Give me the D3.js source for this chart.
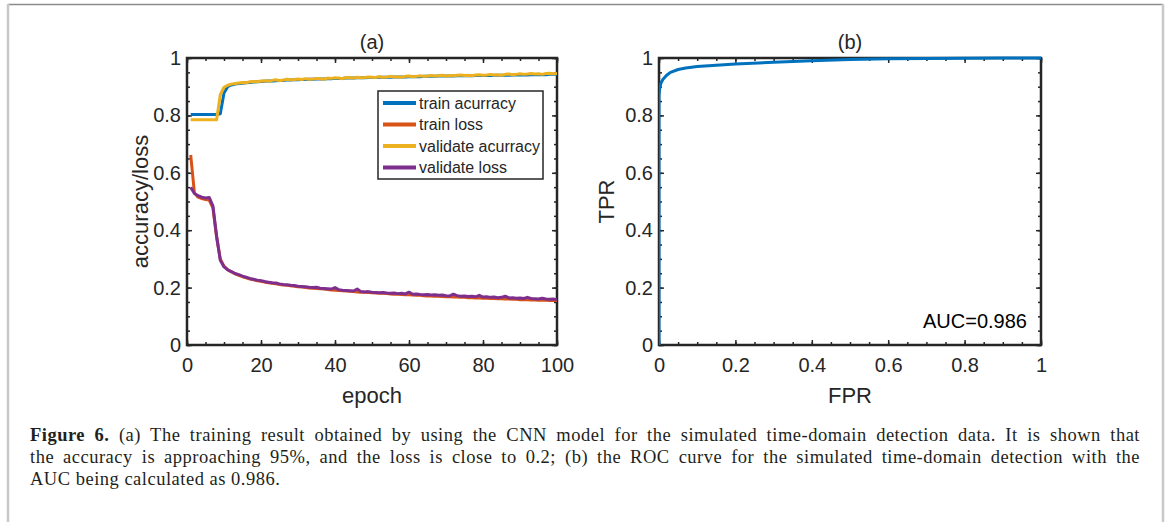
<!DOCTYPE html>
<html><head><meta charset="utf-8">
<script src="https://cdn.jsdelivr.net/npm/d3@7"></script>
<style>
html,body{margin:0;padding:0;background:#fff;}
svg{display:block;}
</style></head><body>
<svg id="chart" width="1167" height="522"></svg>
<script>
// ---------- DATA ----------
const epochs = d3.range(1, 101);
const trainAcc = [
0.803,0.803,0.803,0.803,0.803,0.803,0.803,0.803,0.806,0.878,
0.900,0.906,0.909,0.911,0.912,0.914,0.915,0.916,0.917,0.918,
0.919,0.920,0.920,0.921,0.922,0.922,0.923,0.923,0.924,0.924,
0.925,0.925,0.926,0.926,0.927,0.927,0.927,0.928,0.928,0.929,
0.929,0.929,0.930,0.930,0.930,0.931,0.931,0.931,0.932,0.932,
0.932,0.933,0.933,0.933,0.933,0.934,0.934,0.934,0.934,0.935,
0.935,0.935,0.935,0.936,0.936,0.936,0.936,0.937,0.937,0.937,
0.937,0.937,0.938,0.938,0.938,0.938,0.938,0.939,0.939,0.939,
0.939,0.939,0.940,0.940,0.940,0.940,0.940,0.941,0.941,0.941,
0.941,0.941,0.942,0.942,0.942,0.942,0.942,0.943,0.943,0.943];
const trainLoss = [
0.662,0.530,0.515,0.510,0.507,0.505,0.478,0.375,0.300,0.275,
0.262,0.255,0.248,0.243,0.238,0.234,0.230,0.227,0.224,0.222,
0.219,0.217,0.215,0.213,0.211,0.209,0.208,0.206,0.205,0.203,
0.202,0.200,0.199,0.198,0.197,0.196,0.195,0.193,0.192,0.191,
0.190,0.189,0.188,0.187,0.186,0.185,0.184,0.184,0.183,0.182,
0.181,0.180,0.180,0.179,0.178,0.177,0.177,0.176,0.175,0.175,
0.174,0.173,0.173,0.172,0.171,0.171,0.170,0.170,0.169,0.168,
0.168,0.167,0.167,0.166,0.166,0.165,0.165,0.164,0.164,0.163,
0.163,0.162,0.162,0.161,0.161,0.160,0.160,0.159,0.159,0.158,
0.158,0.158,0.157,0.157,0.156,0.156,0.156,0.155,0.155,0.155];
const valAcc = [
0.785,0.785,0.785,0.785,0.785,0.785,0.785,0.785,0.872,0.898,
0.905,0.909,0.911,0.913,0.915,0.914,0.917,0.918,0.917,0.920,
0.921,0.919,0.922,0.924,0.921,0.923,0.926,0.924,0.925,0.927,
0.925,0.928,0.926,0.927,0.929,0.928,0.926,0.930,0.929,0.931,
0.930,0.928,0.932,0.931,0.930,0.933,0.931,0.932,0.934,0.933,
0.932,0.935,0.933,0.934,0.936,0.934,0.935,0.933,0.936,0.937,
0.935,0.936,0.938,0.936,0.937,0.939,0.937,0.938,0.940,0.937,
0.939,0.938,0.940,0.941,0.939,0.940,0.938,0.941,0.942,0.940,
0.941,0.943,0.941,0.942,0.940,0.943,0.944,0.942,0.943,0.945,
0.943,0.944,0.946,0.944,0.945,0.943,0.946,0.947,0.945,0.946];
const valLoss = [
0.550,0.528,0.520,0.515,0.512,0.514,0.485,0.380,0.295,0.272,
0.262,0.256,0.249,0.245,0.240,0.236,0.232,0.229,0.226,0.224,
0.221,0.219,0.217,0.216,0.213,0.211,0.210,0.208,0.207,0.205,
0.204,0.203,0.201,0.200,0.201,0.198,0.197,0.196,0.195,0.200,
0.193,0.191,0.190,0.189,0.188,0.195,0.186,0.185,0.186,0.184,
0.183,0.182,0.183,0.181,0.180,0.181,0.179,0.180,0.178,0.184,
0.177,0.178,0.176,0.175,0.176,0.174,0.175,0.173,0.174,0.172,
0.171,0.177,0.172,0.170,0.171,0.169,0.170,0.168,0.173,0.167,
0.168,0.166,0.167,0.165,0.166,0.170,0.164,0.165,0.163,0.164,
0.162,0.166,0.162,0.161,0.160,0.163,0.160,0.159,0.160,0.158];
const seriesNames = ["train acurracy","train loss","validate acurracy","validate loss"];

const rocFPR = [0,0,0.002,0.005,0.01,0.02,0.03,0.05,0.07,0.10,0.15,0.20,0.30,0.40,0.50,0.60,0.70,0.80,0.90,1.00];
const rocTPR = [0,0.870,0.895,0.912,0.925,0.940,0.950,0.960,0.965,0.970,0.975,0.979,0.985,0.990,0.995,0.997,0.998,0.999,1.000,1.000];
const aucText = "AUC=0.986";

const epochTicks = [0,20,40,60,80,100];
const unitTicks = [0,0.2,0.4,0.6,0.8,1];

const captionBold = "Figure 6.";
const captionLines = [
  " (a) The training result obtained by using the CNN model for the simulated time-domain detection data. It is shown that",
  "the accuracy is approaching 95%, and the loss is close to 0.2; (b) the ROC curve for the simulated time-domain detection with the",
  "AUC being calculated as 0.986."
];

// ---------- STYLE ----------
const FONT = "'Liberation Sans', Arial, Helvetica, sans-serif";
const SERIF = "'Liberation Serif', 'Times New Roman', serif";
const AX = "#262626";
const COLORS = ["#0072BD","#D95319","#EDB120","#7E2F8E"];

const svg = d3.select("#chart");

// page frame
svg.append("line").attr("x1",8).attr("x2",1163).attr("y1",4.5).attr("y2",4.5).attr("stroke","#8c8c8c").attr("stroke-width",1.5);
svg.append("line").attr("x1",8).attr("x2",8).attr("y1",4).attr("y2",522).attr("stroke","#c8c8c8").attr("stroke-width",2.5);
svg.append("line").attr("x1",1163).attr("x2",1163).attr("y1",4).attr("y2",522).attr("stroke","#c8c8c8").attr("stroke-width",2.5);

function panel(p) {
  const x = d3.scaleLinear().domain(p.xDomain).range([p.x0, p.x1]);
  const y = d3.scaleLinear().domain([0,1]).range([p.y1, p.y0]);
  const g = svg.append("g");
  const clipId = "clip" + p.id;
  svg.append("clipPath").attr("id", clipId).append("rect")
    .attr("x", p.x0).attr("y", p.y0 - 2).attr("width", p.x1 - p.x0 + 2).attr("height", p.y1 - p.y0 + 2);

  const fmt = d => String(+(+d).toFixed(2));
  const styleAxis = sel => {
    sel.selectAll("path.domain").remove();
    sel.selectAll("line").attr("stroke", AX).attr("stroke-width", 1.5);
    sel.selectAll("text").attr("fill", AX).style("font-family", FONT).style("font-size", "20px");
  };
  const xMinor = d3.range(p.xDomain[0], p.xDomain[1] + 1e-9, p.xMinorStep);
  const yMinor = d3.range(0, 1 + 1e-9, 0.05);

  // minor ticks
  g.append("g").attr("transform", `translate(0,${p.y1})`).call(d3.axisBottom(x).tickValues(xMinor).tickSize(-3).tickFormat("")).call(styleAxis);
  g.append("g").attr("transform", `translate(0,${p.y0})`).call(d3.axisTop(x).tickValues(xMinor).tickSize(-3).tickFormat("")).call(styleAxis);
  g.append("g").attr("transform", `translate(${p.x0},0)`).call(d3.axisLeft(y).tickValues(yMinor).tickSize(-3).tickFormat("")).call(styleAxis);
  g.append("g").attr("transform", `translate(${p.x1},0)`).call(d3.axisRight(y).tickValues(yMinor).tickSize(-3).tickFormat("")).call(styleAxis);
  // major ticks
  g.append("g").attr("transform", `translate(0,${p.y1})`).call(d3.axisBottom(x).tickValues(p.xTicks).tickSize(-5).tickPadding(13).tickFormat(fmt)).call(styleAxis);
  g.append("g").attr("transform", `translate(0,${p.y0})`).call(d3.axisTop(x).tickValues(p.xTicks).tickSize(-5).tickFormat("")).call(styleAxis);
  g.append("g").attr("transform", `translate(${p.x0},0)`).call(d3.axisLeft(y).tickValues(unitTicks).tickSize(-5).tickPadding(6).tickFormat(fmt)).call(styleAxis);
  g.append("g").attr("transform", `translate(${p.x1},0)`).call(d3.axisRight(y).tickValues(unitTicks).tickSize(-5).tickFormat("")).call(styleAxis);

  // data lines
  const lg = svg.append("g").attr("clip-path", `url(#${clipId})`);
  p.series.forEach(s => {
    const line = d3.line().x((d,i) => x(s.x[i])).y(d => y(d));
    lg.append("path").datum(s.y).attr("d", line).attr("fill","none")
      .attr("stroke", s.color).attr("stroke-width", 3).attr("stroke-linejoin","round");
  });

  // box
  g.append("rect").attr("x", p.x0).attr("y", p.y0).attr("width", p.x1 - p.x0).attr("height", p.y1 - p.y0)
    .attr("fill","none").attr("stroke", AX).attr("stroke-width", 2.5);

  // labels
  svg.append("text").attr("x", (p.x0+p.x1)/2).attr("y", 49).attr("text-anchor","middle")
    .style("font-family", FONT).style("font-size","20px").attr("fill", AX).text(p.title);
  svg.append("text").attr("x", (p.x0+p.x1)/2).attr("y", 403).attr("text-anchor","middle")
    .style("font-family", FONT).style("font-size","22px").attr("fill", AX).text(p.xlabel);
  svg.append("text").attr("transform", `translate(${p.ylabelX},${(p.y0+p.y1)/2}) rotate(-90)`).attr("text-anchor","middle")
    .style("font-family", FONT).style("font-size","22px").attr("fill", AX).text(p.ylabel);
  return {x, y};
}

// Panel (a)
panel({
  id: "a", x0: 187, x1: 557, y0: 58, y1: 345, xDomain: [0,100], xTicks: epochTicks, xMinorStep: 5,
  title: "(a)", xlabel: "epoch", ylabel: "accuracy/loss", ylabelX: 148,
  series: [
    {x: epochs, y: trainAcc, color: COLORS[0]},
    {x: epochs, y: trainLoss, color: COLORS[1]},
    {x: epochs, y: valAcc, color: COLORS[2]},
    {x: epochs, y: valLoss, color: COLORS[3]}
  ]
});

// legend
const leg = svg.append("g");
const lx = 378, ly = 91, lw = 165, lh = 88, rowH = 21.5;
leg.append("rect").attr("x", lx).attr("y", ly).attr("width", lw).attr("height", lh)
  .attr("fill","#fff").attr("stroke", AX).attr("stroke-width", 1.5);
seriesNames.forEach((n, i) => {
  const cy = ly + 12 + i * rowH;
  leg.append("line").attr("x1", lx + 5).attr("x2", lx + 38).attr("y1", cy).attr("y2", cy)
    .attr("stroke", COLORS[i]).attr("stroke-width", 4);
  leg.append("text").attr("x", lx + 41).attr("y", cy).attr("dy","0.35em")
    .style("font-family", FONT).style("font-size","16px").attr("fill", AX).text(n);
});

// Panel (b)
const pb = panel({
  id: "b", x0: 659, x1: 1041, y0: 58, y1: 345, xDomain: [0,1], xTicks: unitTicks, xMinorStep: 0.05,
  title: "(b)", xlabel: "FPR", ylabel: "TPR", ylabelX: 614,
  series: [{x: rocFPR, y: rocTPR, color: COLORS[0]}]
});
svg.append("text").attr("x", 1027).attr("y", 328).attr("text-anchor","end")
  .style("font-family", FONT).style("font-size","20px").attr("fill", "#000").text(aucText);

// caption (justified lines 1-2 via word spacing)
const cap = svg.append("g").attr("fill", "#231f20").style("font-family", SERIF)
  .style("font-size","18.5px").style("letter-spacing","0.5px");
captionLines.forEach((t, i) => {
  const tx = cap.append("text").attr("x", 30).attr("y", 441 + i * 22);
  if (i === 0) tx.append("tspan").style("font-weight","bold").text(captionBold);
  tx.append("tspan").text(t);
  if (i < 2) {
    const full = (i === 0 ? captionBold : "") + t;
    const spaces = (full.match(/ /g) || []).length;
    const natural = tx.node().getComputedTextLength();
    const ws = Math.max(0, (1110 - natural) / spaces);
    tx.style("word-spacing", ws + "px");
  }
});
</script>
</body></html>
